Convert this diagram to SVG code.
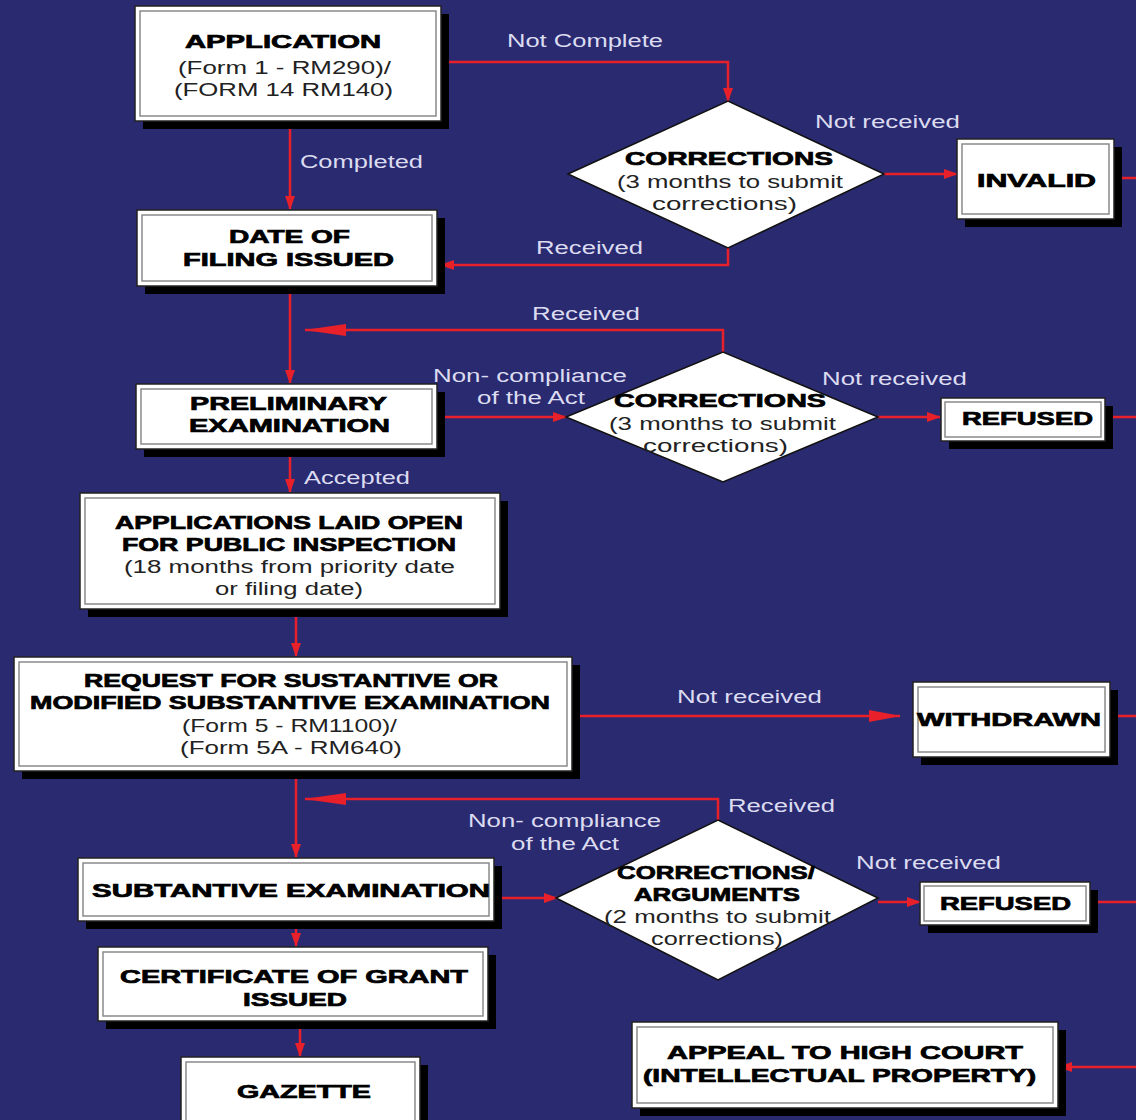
<svg xmlns="http://www.w3.org/2000/svg" width="1136" height="1120" viewBox="0 0 1136 1120">
<style>
.bg{fill:#2a2a70}
.shadow{fill:#000}
.box{fill:#fff;stroke:#222;stroke-width:1.5}
.inner{fill:none;stroke:#8a8a8a;stroke-width:1.5}
.dia{fill:#fff;stroke:#111;stroke-width:1.5}
.h{font-family:"Liberation Sans",Arial,sans-serif;font-weight:bold;font-size:18px;fill:#000;stroke:#000;stroke-width:0.7;text-anchor:middle}
.t{font-family:"Liberation Sans",Arial,sans-serif;font-size:18px;fill:#222;text-anchor:middle}
.l{font-family:"Liberation Sans",Arial,sans-serif;font-size:18px;fill:#dcdcf0;text-anchor:middle}
.c{fill:none;stroke:#e8202a;stroke-width:2.5}
</style>
<defs>
<marker id="a" markerUnits="userSpaceOnUse" markerWidth="14" markerHeight="10" refX="13" refY="5" orient="auto"><path d="M0,0 L14,5 L0,10 z" fill="#e8202a"/></marker>
<marker id="am" markerUnits="userSpaceOnUse" markerWidth="32" markerHeight="12" refX="31" refY="6" orient="auto"><path d="M0,0 L32,6 L0,12 z" fill="#e8202a"/></marker>
<marker id="al" markerUnits="userSpaceOnUse" markerWidth="42" markerHeight="12" refX="41" refY="6" orient="auto"><path d="M0,0 L42,6 L0,12 z" fill="#e8202a"/></marker>
</defs>
<rect class="bg" x="0" y="0" width="1136" height="1120"/>

<g id="connectors">
<path class="c" d="M441,62 H728 V101" marker-end="url(#a)"/>
<path class="c" d="M290,121 V209" marker-end="url(#a)"/>
<path class="c" d="M884,174 H957" marker-end="url(#a)"/>
<path class="c" d="M1114,178 H1136"/>
<path class="c" d="M728,248 V265 H441" marker-end="url(#a)"/>
<path class="c" d="M290,286 V383" marker-end="url(#a)"/>
<path class="c" d="M723,352 V330 H305" marker-end="url(#al)"/>
<path class="c" d="M437,417 H566" marker-end="url(#a)"/>
<path class="c" d="M878,417 H940" marker-end="url(#a)"/>
<path class="c" d="M1105,417 H1136"/>
<path class="c" d="M290,449 V492" marker-end="url(#a)"/>
<path class="c" d="M296,609 V656" marker-end="url(#a)"/>
<path class="c" d="M572,716 H900" marker-end="url(#am)"/>
<path class="c" d="M1110,716 H1136"/>
<path class="c" d="M296,771 V857" marker-end="url(#a)"/>
<path class="c" d="M718,820 V799 H305" marker-end="url(#al)"/>
<path class="c" d="M494,898 H557" marker-end="url(#a)"/>
<path class="c" d="M878,902 H920" marker-end="url(#a)"/>
<path class="c" d="M1090,902 H1136"/>
<path class="c" d="M296,921 V946" marker-end="url(#a)"/>
<path class="c" d="M300,1021 V1056" marker-end="url(#a)"/>
<path class="c" d="M1136,1067 H1059" marker-end="url(#a)"/>
</g>

<g id="labels">
<text class="l" x="585" y="47" textLength="156" lengthAdjust="spacingAndGlyphs">Not Complete</text>
<text class="l" x="361.5" y="168" textLength="123" lengthAdjust="spacingAndGlyphs">Completed</text>
<text class="l" x="887.5" y="128" textLength="145" lengthAdjust="spacingAndGlyphs">Not received</text>
<text class="l" x="589.5" y="254" textLength="107" lengthAdjust="spacingAndGlyphs">Received</text>
<text class="l" x="586" y="320" textLength="108" lengthAdjust="spacingAndGlyphs">Received</text>
<text class="l" x="530" y="382" textLength="194" lengthAdjust="spacingAndGlyphs">Non- compliance</text>
<text class="l" x="531" y="404" textLength="108" lengthAdjust="spacingAndGlyphs">of the Act</text>
<text class="l" x="894.5" y="385" textLength="145" lengthAdjust="spacingAndGlyphs">Not received</text>
<text class="l" x="357" y="484" textLength="106" lengthAdjust="spacingAndGlyphs">Accepted</text>
<text class="l" x="749.5" y="703" textLength="145" lengthAdjust="spacingAndGlyphs">Not received</text>
<text class="l" x="781.5" y="812" textLength="107" lengthAdjust="spacingAndGlyphs">Received</text>
<text class="l" x="564.5" y="827" textLength="193" lengthAdjust="spacingAndGlyphs">Non- compliance</text>
<text class="l" x="565" y="850" textLength="108" lengthAdjust="spacingAndGlyphs">of the Act</text>
<text class="l" x="928.5" y="869" textLength="145" lengthAdjust="spacingAndGlyphs">Not received</text>
</g>

<g id="application">
<rect class="shadow" x="143" y="14" width="306" height="115"/>
<rect class="box" x="135" y="6" width="306" height="115"/>
<rect class="inner" x="140" y="11" width="296" height="105"/>
<text class="h" x="283" y="48" textLength="196" lengthAdjust="spacingAndGlyphs">APPLICATION</text>
<text class="t" x="284.5" y="74" textLength="213" lengthAdjust="spacingAndGlyphs">(Form 1 - RM290)/</text>
<text class="t" x="283.5" y="96" textLength="219" lengthAdjust="spacingAndGlyphs">(FORM 14 RM140)</text>
</g>

<g id="corrections1">
<polygon class="dia" points="568,174 728,101 884,174 728,248"/>
<text class="h" x="729" y="165" textLength="208" lengthAdjust="spacingAndGlyphs">CORRECTIONS</text>
<text class="t" x="730" y="188" textLength="226" lengthAdjust="spacingAndGlyphs">(3 months to submit</text>
<text class="t" x="724.5" y="210" textLength="145" lengthAdjust="spacingAndGlyphs">corrections)</text>
</g>

<g id="invalid">
<rect class="shadow" x="965" y="147" width="157" height="80"/>
<rect class="box" x="957" y="139" width="157" height="80"/>
<rect class="inner" x="962" y="144" width="147" height="70"/>
<text class="h" x="1036.5" y="187" textLength="119" lengthAdjust="spacingAndGlyphs">INVALID</text>
</g>

<g id="date-of-filing">
<rect class="shadow" x="145" y="218" width="300" height="76"/>
<rect class="box" x="137" y="210" width="300" height="76"/>
<rect class="inner" x="142" y="215" width="290" height="66"/>
<text class="h" x="289.5" y="243" textLength="121" lengthAdjust="spacingAndGlyphs">DATE OF</text>
<text class="h" x="288.5" y="266" textLength="211" lengthAdjust="spacingAndGlyphs">FILING ISSUED</text>
</g>

<g id="preliminary">
<rect class="shadow" x="144" y="392" width="301" height="65"/>
<rect class="box" x="136" y="384" width="301" height="65"/>
<rect class="inner" x="141" y="389" width="291" height="55"/>
<text class="h" x="288.5" y="410" textLength="197" lengthAdjust="spacingAndGlyphs">PRELIMINARY</text>
<text class="h" x="289.5" y="432" textLength="201" lengthAdjust="spacingAndGlyphs">EXAMINATION</text>
</g>

<g id="corrections2">
<polygon class="dia" points="566,417 723,352 878,417 723,482"/>
<text class="h" x="720" y="407" textLength="212" lengthAdjust="spacingAndGlyphs">CORRECTIONS</text>
<text class="t" x="722.5" y="430" textLength="227" lengthAdjust="spacingAndGlyphs">(3 months to submit</text>
<text class="t" x="715.5" y="452" textLength="145" lengthAdjust="spacingAndGlyphs">corrections)</text>
</g>

<g id="refused1">
<rect class="shadow" x="949" y="406" width="164" height="43"/>
<rect class="box" x="941" y="398" width="164" height="43"/>
<rect class="inner" x="945" y="402" width="156" height="35"/>
<text class="h" x="1027.5" y="425" textLength="131" lengthAdjust="spacingAndGlyphs">REFUSED</text>
</g>

<g id="laid-open">
<rect class="shadow" x="88" y="501" width="420" height="116"/>
<rect class="box" x="80" y="493" width="420" height="116"/>
<rect class="inner" x="85" y="498" width="410" height="106"/>
<text class="h" x="289" y="529" textLength="348" lengthAdjust="spacingAndGlyphs">APPLICATIONS LAID OPEN</text>
<text class="h" x="289" y="551" textLength="334" lengthAdjust="spacingAndGlyphs">FOR PUBLIC INSPECTION</text>
<text class="t" x="289.5" y="573" textLength="331" lengthAdjust="spacingAndGlyphs">(18 months from priority date</text>
<text class="t" x="289" y="595" textLength="148" lengthAdjust="spacingAndGlyphs">or filing date)</text>
</g>

<g id="request">
<rect class="shadow" x="22" y="665" width="558" height="114"/>
<rect class="box" x="14" y="657" width="558" height="114"/>
<rect class="inner" x="19" y="662" width="548" height="104"/>
<text class="h" x="291" y="687" textLength="414" lengthAdjust="spacingAndGlyphs">REQUEST FOR SUSTANTIVE OR</text>
<text class="h" x="290" y="709" textLength="520" lengthAdjust="spacingAndGlyphs">MODIFIED SUBSTANTIVE EXAMINATION</text>
<text class="t" x="289.5" y="732" textLength="215" lengthAdjust="spacingAndGlyphs">(Form 5 - RM1100)/</text>
<text class="t" x="291" y="754" textLength="222" lengthAdjust="spacingAndGlyphs">(Form 5A - RM640)</text>
</g>

<g id="withdrawn">
<rect class="shadow" x="921" y="690" width="197" height="75"/>
<rect class="box" x="913" y="682" width="197" height="75"/>
<rect class="inner" x="918" y="687" width="187" height="65"/>
<text class="h" x="1009" y="726" textLength="184" lengthAdjust="spacingAndGlyphs">WITHDRAWN</text>
</g>

<g id="substantive">
<rect class="shadow" x="86" y="866" width="416" height="63"/>
<rect class="box" x="78" y="858" width="416" height="63"/>
<rect class="inner" x="83" y="863" width="406" height="53"/>
<text class="h" x="291" y="897" textLength="398" lengthAdjust="spacingAndGlyphs">SUBTANTIVE EXAMINATION</text>
</g>

<g id="corrections3">
<polygon class="dia" points="556,898 718,820 878,898 718,980"/>
<text class="h" x="716" y="879" textLength="198" lengthAdjust="spacingAndGlyphs">CORRECTIONS/</text>
<text class="h" x="717" y="901" textLength="166" lengthAdjust="spacingAndGlyphs">ARGUMENTS</text>
<text class="t" x="717.5" y="923" textLength="227" lengthAdjust="spacingAndGlyphs">(2 months to submit</text>
<text class="t" x="717" y="945" textLength="132" lengthAdjust="spacingAndGlyphs">corrections)</text>
</g>

<g id="refused2">
<rect class="shadow" x="928" y="890" width="170" height="43"/>
<rect class="box" x="920" y="882" width="170" height="43"/>
<rect class="inner" x="924" y="886" width="162" height="35"/>
<text class="h" x="1005.5" y="910" textLength="131" lengthAdjust="spacingAndGlyphs">REFUSED</text>
</g>

<g id="certificate">
<rect class="shadow" x="106" y="955" width="390" height="74"/>
<rect class="box" x="98" y="947" width="390" height="74"/>
<rect class="inner" x="103" y="952" width="380" height="64"/>
<text class="h" x="294" y="983" textLength="348" lengthAdjust="spacingAndGlyphs">CERTIFICATE OF GRANT</text>
<text class="h" x="295" y="1006" textLength="104" lengthAdjust="spacingAndGlyphs">ISSUED</text>
</g>

<g id="gazette">
<rect class="shadow" x="189" y="1065" width="239" height="80"/>
<rect class="box" x="181" y="1057" width="239" height="80"/>
<rect class="inner" x="186" y="1062" width="229" height="70"/>
<text class="h" x="304" y="1098" textLength="134" lengthAdjust="spacingAndGlyphs">GAZETTE</text>
</g>

<g id="appeal">
<rect class="shadow" x="640" y="1030" width="426" height="86"/>
<rect class="box" x="632" y="1022" width="426" height="86"/>
<rect class="inner" x="637" y="1027" width="416" height="76"/>
<text class="h" x="845" y="1059" textLength="356" lengthAdjust="spacingAndGlyphs">APPEAL TO HIGH COURT</text>
<text class="h" x="839.5" y="1082" textLength="393" lengthAdjust="spacingAndGlyphs">(INTELLECTUAL PROPERTY)</text>
</g>
</svg>
